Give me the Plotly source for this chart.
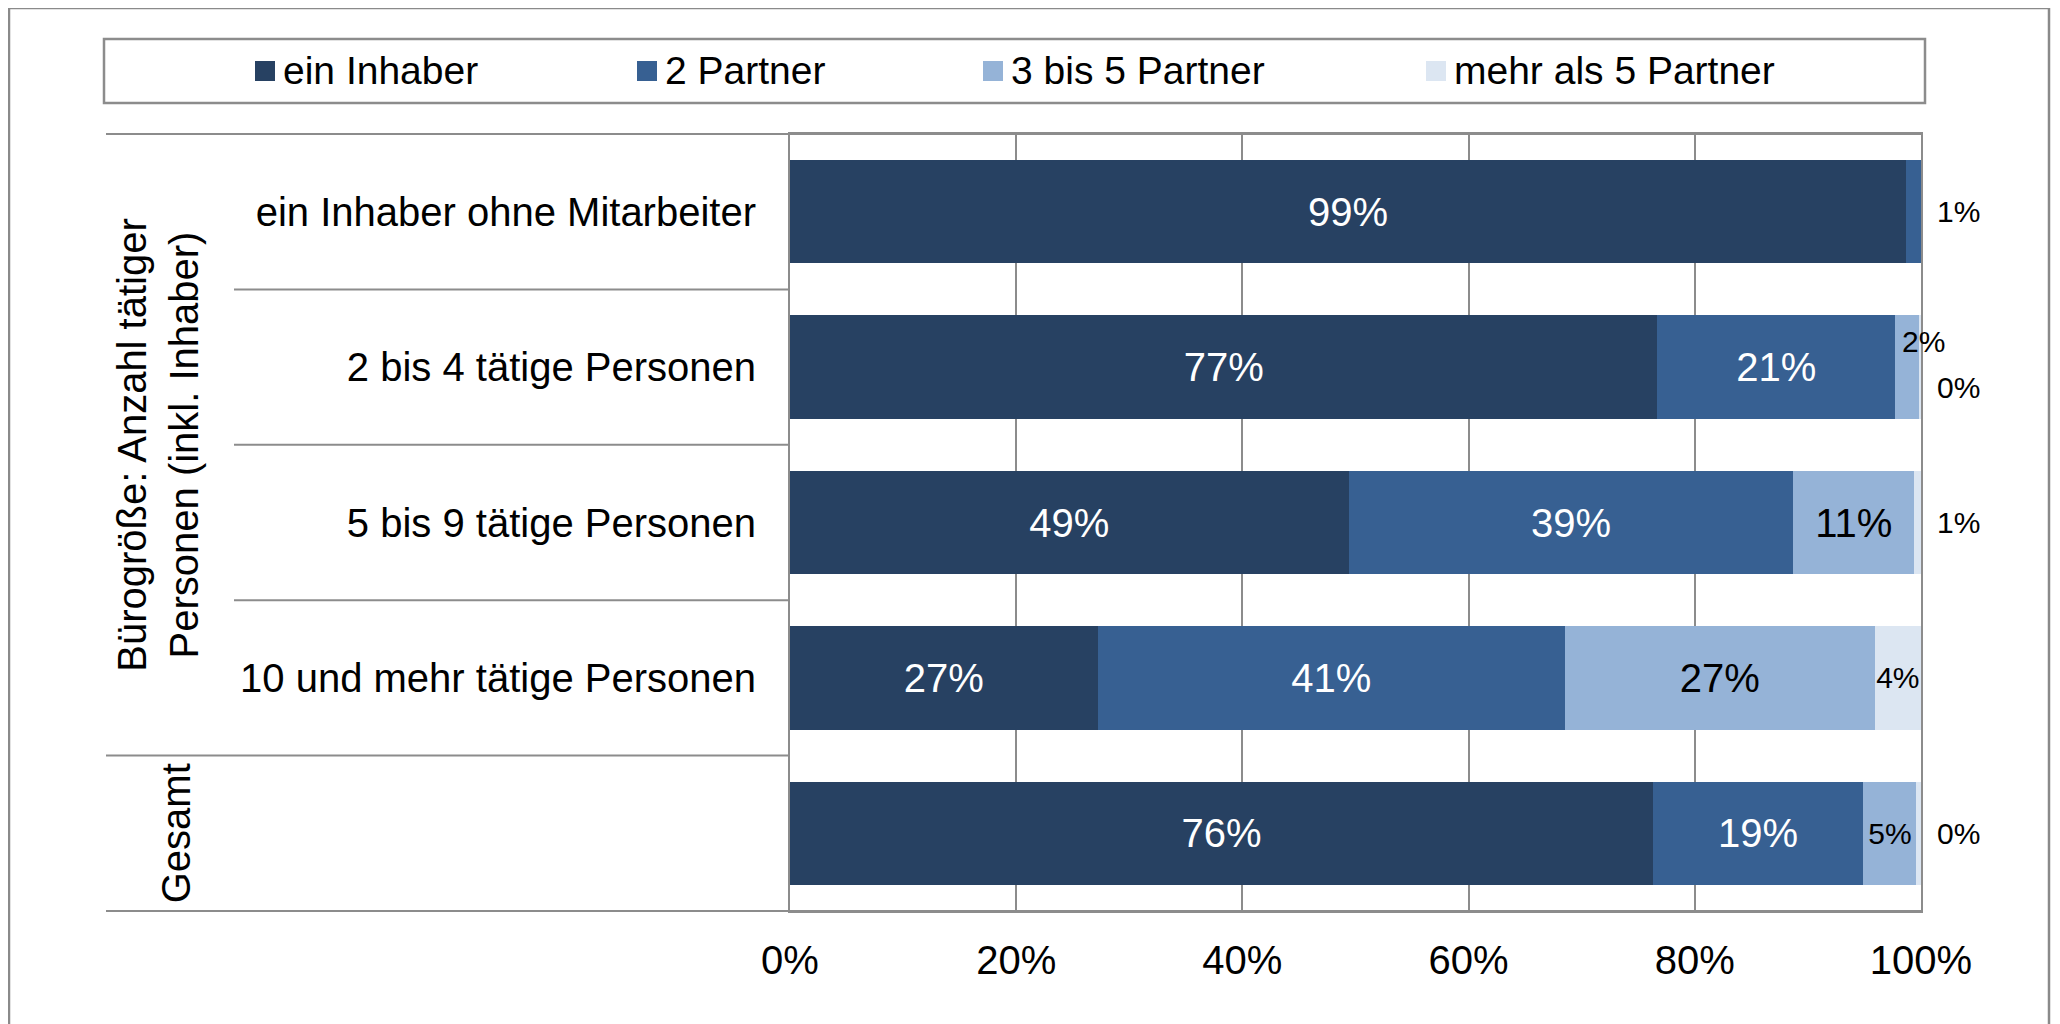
import plotly.graph_objects as go

# ---------------- data ----------------
categories = [
    "ein Inhaber ohne Mitarbeiter",
    "2 bis 4 tätige Personen",
    "5 bis 9 tätige Personen",
    "10 und mehr tätige Personen",
    "Gesamt",
]
category_ticktext = [
    "ein Inhaber ohne Mitarbeiter",
    "2 bis 4 tätige Personen",
    "5 bis 9 tätige Personen",
    "10 und mehr tätige Personen",
    "",
]
series_names = ["ein Inhaber", "2 Partner", "3 bis 5 Partner", "mehr als 5 Partner"]
ein_inhaber = [98.7, 76.7, 49.4, 27.2, 76.3]
zwei_partner = [1.3, 21.0, 39.3, 41.3, 18.6]
drei_bis_fuenf_partner = [0.0, 2.1, 10.7, 27.4, 4.7]
mehr_als_fuenf_partner = [0.0, 0.2, 0.6, 4.1, 0.4]
x_tickvals = [0, 20, 40, 60, 80, 100]
x_ticktext = ["0%", "20%", "40%", "60%", "80%", "100%"]
group_title = "Bürogröße: Anzahl tätiger<br>Personen (inkl. Inhaber)"
group_total = "Gesamt"

series_values = [ein_inhaber, zwei_partner, drei_bis_fuenf_partner, mehr_als_fuenf_partner]
colors = ["#274162", "#376092", "#95B3D7", "#DCE6F2"]
label_colors = ["white", "white", "black", "black"]

FONT = "Liberation Sans, Arial, Helvetica, sans-serif"
W, H = 2060, 1024
OFF = 8  # page body margin offset
# plot area in screen coordinates of the reference
SL, SR, ST, SB = 790, 1921, 134, 911
PL, PR, PT, PB = SL - OFF, SR - OFF, ST - OFF, SB - OFF
GRAY = "#8c8c8c"


def px_x(px):
    return (px - OFF - PL) / (PR - PL)


def px_y(py):
    return 1 - (py - OFF - PT) / (PB - PT)


def pct(v):
    return f"{int(v + 0.5)}%"


fig = go.Figure()
outside = {i: [] for i in range(len(categories))}
for s, (name, vals) in enumerate(zip(series_names, series_values)):
    texts, positions, sizes = [], [], []
    for i, v in enumerate(vals):
        texts.append(pct(v))
        if v >= 4:
            positions.append("inside")
        else:
            positions.append("none")
            if v > 0:
                outside[i].append(pct(v))
        sizes.append(30 if v < 6 else 40)
    fig.add_trace(go.Bar(
        name=name, y=categories, x=vals, orientation="h",
        marker=dict(color=colors[s], line=dict(width=0)),
        text=texts, textposition=positions, textangle=0,
        insidetextanchor="middle", constraintext="none",
        textfont=dict(family=FONT, size=sizes, color=label_colors[s]),
        showlegend=False, hoverinfo="x+y+name",
    ))

annotations = []
# outside value labels for small segments
for i, labs in outside.items():
    if len(labs) == 1:
        annotations.append(dict(x=px_x(1958), xref="paper", y=categories[i], yref="y",
                                text=labs[0], showarrow=False, xanchor="center", yanchor="middle",
                                font=dict(family=FONT, size=30, color="black")))
    elif len(labs) >= 2:
        annotations.append(dict(x=px_x(1923), xref="paper", y=categories[i], yref="y", yshift=26,
                                text=labs[0], showarrow=False, xanchor="center", yanchor="middle",
                                font=dict(family=FONT, size=30, color="black")))
        annotations.append(dict(x=px_x(1958), xref="paper", y=categories[i], yref="y", yshift=-20,
                                text=labs[1], showarrow=False, xanchor="center", yanchor="middle",
                                font=dict(family=FONT, size=30, color="black")))

# group labels (rotated)
annotations.append(dict(x=px_x(158), xref="paper", y=0.6, yref="paper", text=group_title,
                        textangle=-90, showarrow=False, xanchor="center", yanchor="middle",
                        align="center", font=dict(family=FONT, size=40, color="black")))
annotations.append(dict(x=px_x(176), xref="paper", y=0.1, yref="paper", text=group_total,
                        textangle=-90, showarrow=False, xanchor="center", yanchor="middle",
                        font=dict(family=FONT, size=40, color="black")))

shapes = []
# outer frame
shapes.append(dict(type="rect", xref="paper", yref="paper", x0=px_x(9), x1=px_x(2049),
                   y0=px_y(1045), y1=px_y(8), line=dict(color="#8a8a8a", width=2.5), layer="below"))
# legend box
shapes.append(dict(type="rect", xref="paper", yref="paper", x0=px_x(104), x1=px_x(1925),
                   y0=px_y(103), y1=px_y(39), line=dict(color=GRAY, width=2.5), fillcolor="white"))
legend_lefts = [255, 637, 983, 1426]
for s, name in enumerate(series_names):
    lx = legend_lefts[s]
    shapes.append(dict(type="rect", xref="paper", yref="paper", x0=px_x(lx), x1=px_x(lx + 20),
                       y0=px_y(81), y1=px_y(61), line=dict(width=0), fillcolor=colors[s]))
    annotations.append(dict(x=px_x(lx + 26), xref="paper", y=px_y(71), yref="paper", text=name,
                            showarrow=False, xanchor="left", yanchor="middle",
                            font=dict(family=FONT, size=39, color="black")))

# category separator lines in the label area
n = len(categories)
for k in range(n + 1):
    yk = 1 - k / n
    if k in (0, n - 1, n):
        x0 = px_x(106)
    else:
        x0 = px_x(234)
    x1 = 1 if k in (0, n) else 0
    shapes.append(dict(type="line", xref="paper", yref="paper", x0=x0, x1=x1, y0=yk, y1=yk,
                       line=dict(color=GRAY, width=2)))

fig.update_layout(
    width=W, height=H,
    margin=dict(l=PL, r=W - PR, t=PT, b=H - PB, pad=0),
    paper_bgcolor="white", plot_bgcolor="white",
    barmode="stack", bargap=0.334,
    font=dict(family=FONT, size=40, color="black"),
    xaxis=dict(range=[0, 100], tickvals=x_tickvals, ticktext=x_ticktext,
               showgrid=True, gridcolor=GRAY, gridwidth=1.5, zeroline=False,
               showline=True, linecolor=GRAY, linewidth=2, mirror=True,
               ticks="", ticklabelstandoff=13,
               tickfont=dict(family=FONT, size=40, color="black")),
    yaxis=dict(type="category", categoryorder="array", categoryarray=categories,
               autorange="reversed", tickvals=categories, ticktext=category_ticktext,
               showgrid=False, showline=True, linecolor=GRAY, linewidth=2, mirror=True,
               ticks="", ticklabelstandoff=24,
               tickfont=dict(family=FONT, size=40, color="black")),
    annotations=annotations, shapes=shapes,
)

fig.write_html("out.html")
